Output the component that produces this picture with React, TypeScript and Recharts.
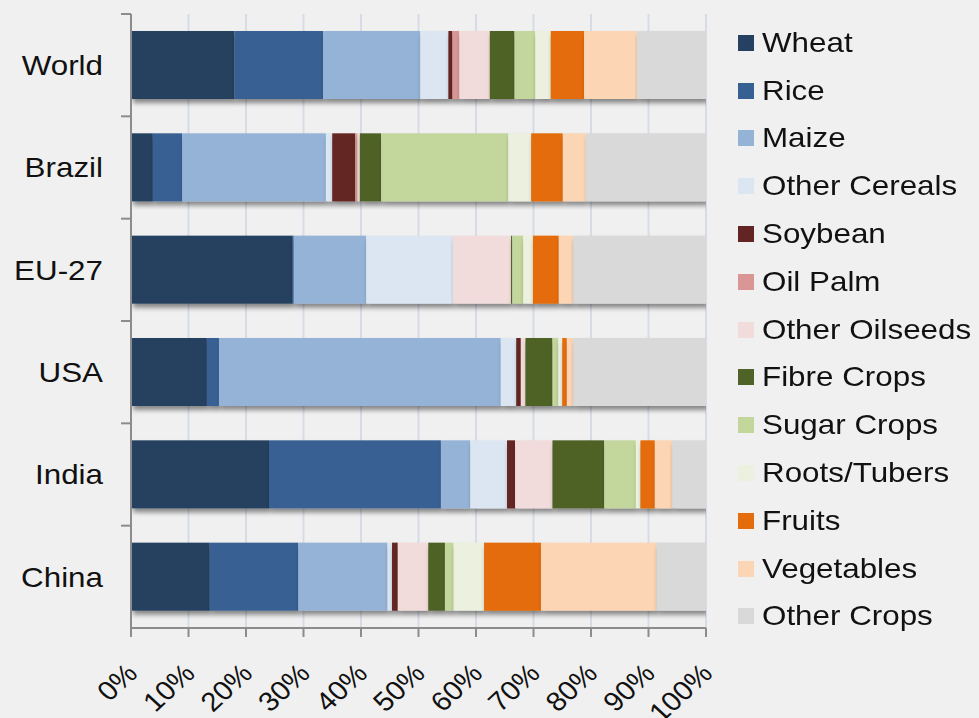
import React from 'react';
import { BarChart, Bar, XAxis, YAxis, CartesianGrid } from 'recharts';

const regions = ['World', 'Brazil', 'EU-27', 'USA', 'India', 'China'];

// share of harvested area, % per region
const wheat = [18.0, 3.8, 28.0, 13.2, 24.0, 13.7];
const rice = [15.4, 5.1, 0.3, 2.1, 29.9, 15.4];
const maize = [16.9, 25.0, 12.6, 49.0, 5.1, 15.5];
const otherCereals = [4.9, 1.1, 15.1, 2.7, 6.4, 0.8];
const soybean = [0.7, 4.0, 0, 0.8, 1.4, 1.0];
const oilPalm = [1.2, 0.4, 0, 0, 0, 0];
const otherOilseeds = [5.3, 0.4, 10.1, 0.8, 6.5, 5.3];
const fibreCrops = [4.3, 3.7, 0.2, 4.7, 9.0, 2.9];
const sugarCrops = [3.6, 22.1, 1.9, 1.0, 5.5, 1.5];
const rootsTubers = [2.7, 4.0, 1.7, 0.7, 0.8, 5.3];
const fruits = [5.8, 5.5, 4.5, 0.8, 2.5, 9.9];
const vegetables = [9.2, 4.0, 2.5, 1.1, 3.0, 20.1];
const otherCrops = [12.0, 20.9, 23.1, 23.1, 5.9, 8.6];

const xTicks = [0, 10, 20, 30, 40, 50, 60, 70, 80, 90, 100];

const SERIES = [
  { key: 'Wheat', values: wheat, color: '#254061' },
  { key: 'Rice', values: rice, color: '#376092' },
  { key: 'Maize', values: maize, color: '#95b3d7' },
  { key: 'Other Cereals', values: otherCereals, color: '#dce6f2' },
  { key: 'Soybean', values: soybean, color: '#632523' },
  { key: 'Oil Palm', values: oilPalm, color: '#d99694' },
  { key: 'Other Oilseeds', values: otherOilseeds, color: '#f2dcdb' },
  { key: 'Fibre Crops', values: fibreCrops, color: '#4f6228' },
  { key: 'Sugar Crops', values: sugarCrops, color: '#c3d69b' },
  { key: 'Roots/Tubers', values: rootsTubers, color: '#ebf1de' },
  { key: 'Fruits', values: fruits, color: '#e46c0a' },
  { key: 'Vegetables', values: vegetables, color: '#fcd5b5' },
  { key: 'Other Crops', values: otherCrops, color: '#d9d9d9' },
];

const data = regions.map((name, i) => {
  const row: Record<string, any> = { name };
  SERIES.forEach(s => { row[s.key] = s.values[i]; });
  return row;
});

const FONT = '"Liberation Sans", Arial, sans-serif';
const AXIS_COLOR = '#8c8c8c';
const STRETCH = 1.12; // text in the original is a bit wide

const RegionTick = (props: any) => {
  const { x, y, payload } = props;
  const half = payload.offset || 51.2;
  const axisX = x + 28;
  return (
    <g>
      <line x1={axisX - 10} x2={axisX} y1={y - half} y2={y - half} stroke={AXIS_COLOR} strokeWidth={2} />
      <text
        x={0}
        y={0}
        transform={`translate(${x}, ${y}) scale(${STRETCH}, 1)`}
        textAnchor="end"
        dominantBaseline="central"
        fontSize={28}
        fill="#111"
        fontFamily={FONT}
      >
        {payload.value}
      </text>
    </g>
  );
};

const PercentTick = (props: any) => {
  const { x, y, payload } = props;
  const tx = x + 8;
  const ty = y + 38;
  return (
    <text
      x={0}
      y={0}
      textAnchor="end"
      transform={`translate(${tx}, ${ty}) scale(1.08, 1) rotate(-45)`}
      fontSize={27}
      fill="#111"
      fontFamily={FONT}
    >
      {`${payload.value}%`}
    </text>
  );
};

const ShadowBar = (props: any) => {
  const { x, y, width, height, fill } = props;
  if (!width || width <= 0) return null;
  return <rect x={x} y={y} width={width} height={height} fill={fill} filter="url(#barShadow)" />;
};

const LegendBox = () => (
  <div style={{ position: 'absolute', left: 738, top: 19, fontFamily: FONT, fontSize: 28, color: '#111' }}>
    {SERIES.map(s => (
      <div key={s.key} style={{ display: 'flex', alignItems: 'center', height: 47.8, whiteSpace: 'nowrap' }}>
        <span style={{ width: 16, height: 16, background: s.color, marginRight: 8, display: 'inline-block' }} />
        <span style={{ display: 'inline-block', transform: `scaleX(${STRETCH})`, transformOrigin: 'left center' }}>{s.key}</span>
      </div>
    ))}
  </div>
);

export default function App() {
  return (
    <div style={{ position: 'absolute', left: 0, top: 0, width: 979, height: 718, background: '#f0f0f0', overflow: 'hidden' }}>
      <svg width={0} height={0} style={{ position: 'absolute' }}>
        <defs>
          <filter id="barShadow" filterUnits="userSpaceOnUse" x={0} y={0} width={979} height={718}>
            <feGaussianBlur in="SourceAlpha" stdDeviation={2.5} />
            <feOffset dx={2} dy={4} result="blur" />
            <feComponentTransfer>
              <feFuncA type="linear" slope={0.45} />
            </feComponentTransfer>
            <feMerge>
              <feMergeNode />
              <feMergeNode in="SourceGraphic" />
            </feMerge>
          </filter>
        </defs>
      </svg>
      <BarChart
        width={979}
        height={718}
        data={data}
        layout="vertical"
        margin={{ top: 14, right: 273, bottom: 0, left: 0 }}
        barSize={68}
      >
        <CartesianGrid horizontal={false} stroke="#d6dbe4" strokeWidth={2} />
        <XAxis
          type="number"
          domain={[0, 100]}
          ticks={xTicks}
          interval={0}
          allowDataOverflow
          height={90}
          stroke={AXIS_COLOR}
          strokeWidth={2}
          tickSize={9}
          tickMargin={0}
          tick={<PercentTick />}
        />
        <YAxis
          type="category"
          dataKey="name"
          width={131}
          stroke={AXIS_COLOR}
          strokeWidth={2}
          tickLine={false}
          tickSize={0}
          tickMargin={28}
          tick={<RegionTick />}
        />
        {SERIES.map(s => (
          <Bar key={s.key} dataKey={s.key} stackId="a" fill={s.color} shape={<ShadowBar />} isAnimationActive={false} />
        ))}
      </BarChart>
      <LegendBox />
    </div>
  );
}
